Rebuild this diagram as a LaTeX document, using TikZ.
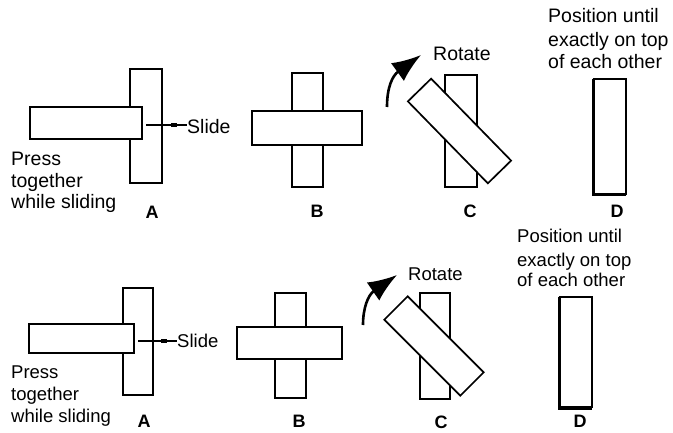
\documentclass[tikz,border=0pt]{standalone}
\usepackage{fontspec}
\setmainfont{Liberation Sans}
\usetikzlibrary{arrows.meta}
\tikzset{
  bar/.style={draw=black, fill=white, line width=1.7pt, inner sep=0pt, outer sep=0pt},
  txtA/.style={inner sep=0pt, anchor=base west, font=\fontsize{19.5}{22}\selectfont},
  txtB/.style={inner sep=0pt, anchor=base west, font=\fontsize{18.5}{21}\selectfont},
  lab/.style={inner sep=0pt, anchor=base, font=\fontsize{18}{20}\selectfont\bfseries},
  slideline/.style={line width=1.2pt},
  rotarrow/.style={line width=2.6pt, -{Latex[length=29pt,width=22pt]}},
}
\begin{document}
\begin{tikzpicture}[x=1pt,y=-1pt]
\useasboundingbox (0,0) rectangle (673,433);
% ===== top row =====
% A
\node[bar, minimum width=32.5pt, minimum height=114.5pt] (vA1) at (146,126) {};
\node[bar, minimum width=112.5pt, minimum height=32.5pt] (hA1) at (86,123) {};
\node[txtA] (slA1) at (187,134) {Slide};
\draw[slideline] ([xshift=4pt]hA1.east |- 0,125) coordinate (sA1) -- (slA1.west |- 0,125);
\fill (171,123) rectangle (177,127);
\node[txtA] (pA1) at (11,166) {Press};
\node[txtA] (tA1) at (11,188) {together};
\node[txtA] (wA1) at (11,209) {while sliding};
\node[lab] (lA1) at (152,219) {A};
% B
\node[bar, minimum width=31.5pt, minimum height=114.5pt] (vB1) at (307.5,130) {};
\node[bar, minimum width=110.5pt, minimum height=34.5pt] (hB1) at (307,128) {};
\node[lab] (lB1) at (317,218) {B};
% C
\node[bar, minimum width=32.5pt, minimum height=112.5pt] (vC1) at (461,131) {};
\node[bar, minimum width=114.5pt, minimum height=32.5pt, rotate=-45.7] (rC1) at (459.5,131) {};
\node[txtA] (roC1) at (433,61) {Rotate};
\coordinate (tailC1) at (387,107);
\coordinate (tipC1) at (421,55);
\draw[rotarrow] (tailC1) .. controls (387,88) and (392,76) .. (tipC1);
\node[lab] (lC1) at (470,218) {C};
% D
\node[bar, minimum width=32.5pt, minimum height=115.5pt] (dD1) at (610,136.5) {};
\draw[line width=1.7pt] ([xshift=-1.4pt]dD1.north west) |- ([yshift=-1.4pt]dD1.south east);
\node[txtA] (p1D1) at (548,23) {Position until};
\node[txtA] (p2D1) at (548,47) {exactly on top};
\node[txtA] (p3D1) at (548,69) {of each other};
\node[lab] (lD1) at (617,218) {D};
% ===== bottom row =====
% A
\node[bar, minimum width=30.5pt, minimum height=107.5pt] (vA2) at (138,341.5) {};
\node[bar, minimum width=105.5pt, minimum height=29.5pt] (hA2) at (81.5,338.5) {};
\node[txtB] (slA2) at (177,348) {Slide};
\draw[slideline] ([xshift=4pt]hA2.east |- 0,341) -- (slA2.west |- 0,341);
\fill (161,339) rectangle (167,343);
\node[txtB] (pA2) at (11,378) {Press};
\node[txtB] (tA2) at (11,400) {together};
\node[txtB] (wA2) at (11,422) {while sliding};
\node[lab] (lA2) at (144,427) {A};
% B
\node[bar, minimum width=31.5pt, minimum height=105.5pt] (vB2) at (290.5,345.5) {};
\node[bar, minimum width=105.5pt, minimum height=32.5pt] (hB2) at (289.5,343) {};
\node[lab] (lB2) at (299,427) {B};
% C
\node[bar, minimum width=30.5pt, minimum height=106.5pt] (vC2) at (435,346) {};
\node[bar, minimum width=107.5pt, minimum height=33pt, rotate=-45] (rC2) at (434,346) {};
\node[txtB] (roC2) at (408,280) {Rotate};
\coordinate (tailC2) at (363,325);
\coordinate (tipC2) at (397,275);
\draw[rotarrow] (tailC2) .. controls (363,308) and (368,295) .. (tipC2);
\node[lab] (lC2) at (441,428) {C};
% D
\node[bar, minimum width=32.5pt, minimum height=110.5pt] (dD2) at (576,352) {};
\draw[line width=1.7pt] ([xshift=-1.4pt]dD2.north west) |- ([yshift=-1.4pt]dD2.south east);
\node[txtB] (p1D2) at (517,243) {Position until};
\node[txtB] (p2D2) at (517,266) {exactly on top};
\node[txtB] (p3D2) at (517,287) {of each other};
\node[lab] (lD2) at (580,427) {D};
\end{tikzpicture}
\end{document}
